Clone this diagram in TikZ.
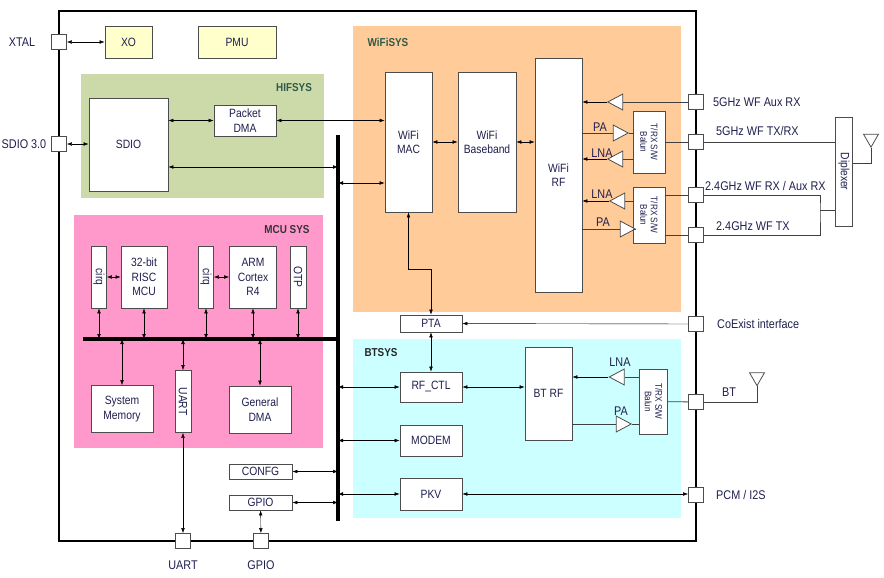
\documentclass[tikz,border=0pt]{standalone}
\usepackage{fontspec}
\setmainfont[FakeStretch=0.86]{Liberation Sans}
\usetikzlibrary{arrows.meta,shapes.geometric}
\definecolor{hifgreen}{HTML}{CCDAA9}
\definecolor{wifiorange}{HTML}{FFCB99}
\definecolor{mcupink}{HTML}{FF99CC}
\definecolor{btcyan}{HTML}{CCFFFF}
\definecolor{xoyellow}{HTML}{FFFFCC}
\definecolor{txtblue}{HTML}{1F1F4F}
\definecolor{sysgreen}{HTML}{2F5A48}
\begin{document}
\begin{tikzpicture}[x=1pt, y=-1pt,
    >={Latex[length=5pt,width=3.6pt]},
    every node/.style = {font=\fontsize{12}{14.5}\selectfont,
      text=txtblue, inner sep=0pt},
    blk/.style = {draw=black!70, line width=0.8pt, fill=white, align=center},
    pin/.style = {draw=black!70, line width=0.8pt, fill=white, minimum size=15pt},
    amp/.style = {draw=black!70, line width=0.8pt, fill=white, isosceles triangle,
      isosceles triangle apex angle=56, minimum size=15pt},
    ampl/.style = {amp, shape border rotate=180},
    ant/.style = {draw=black!70, line width=0.8pt, isosceles triangle,
      isosceles triangle apex angle=60, minimum size=13pt, shape border rotate=270},
    sys/.style = {font=\bfseries\fontsize{11.5}{13}\selectfont},
    lbl/.style = {font=\fontsize{12.6}{14}\selectfont},
    small/.style = {font=\fontsize{9.5}{10.5}\selectfont, align=center},
    link/.style = {draw=black!75, line width=0.8pt},
    bus/.style = {line width=3.5pt}]
    \useasboundingbox (0,0) rectangle (884,578);
    \fill[hifgreen] (81,74) rectangle (324,198);
    \fill[wifiorange] (353,26) rectangle (681,312);
    \fill[mcupink] (74,215) rectangle (323,448);
    \fill[btcyan] (353,339) rectangle (681,518);
    \draw[line width=1.8pt] (59,11) rectangle (696,541);
    \node[sys, text=sysgreen] at (294,88) {HIFSYS};
    \node[sys, text=sysgreen] at (388,42) {WiFiSYS};
    \node[sys, text=black!80] at (287,230) {MCU SYS};
    \node[sys, text=black!85] at (381,353) {BTSYS};

    \coordinate (busT) at (338,135);
    \coordinate (busB) at (338,521);
    \coordinate (mbus) at (83,339);
    \draw[bus] (busT) -- (busB);
    \draw[bus] (mbus) -- (mbus -| busT);

    \node[blk, fill=xoyellow, minimum width=47pt, minimum height=32pt] (xo) at (128.5,42) {XO};
    \node[blk, fill=xoyellow, minimum width=78pt, minimum height=32pt] (pmu) at (237,42) {PMU};
    \node[blk, minimum width=79pt, minimum height=93pt] (sdio) at (128.5,144.5) {SDIO};
    \node[blk, minimum width=62pt, minimum height=31pt] (pdma) at (245,120.5) {Packet\\DMA};
    \node[blk, minimum width=47pt, minimum height=140pt] (mac) at (408.5,142) {WiFi\\MAC};
    \node[blk, minimum width=58pt, minimum height=140pt] (bb) at (487,142) {WiFi\\Baseband};
    \node[blk, minimum width=47pt, minimum height=234pt] (rf) at (558.5,175) {WiFi\\RF};
    \node[blk, minimum width=32pt, minimum height=62pt] (bal1) at (649,142) {};
    \node[small, rotate=-90] at (bal1) {T/RX S/W\\Balun};
    \node[blk, minimum width=32pt, minimum height=56pt] (bal2) at (649,215) {};
    \node[small, rotate=-90] at (bal2) {T/RX S/W\\Balun};
    \node[blk, minimum width=17pt, minimum height=109pt] (dip) at (844,171.5) {};
    \node[rotate=-90] at (dip) {Diplexer};

    \node[blk, minimum width=62pt, minimum height=17pt] (pta) at (431,323.5) {PTA};
    \node[blk, minimum width=62pt, minimum height=30pt] (rfctl) at (431,387) {RF\_CTL};
    \node[blk, minimum width=62pt, minimum height=31pt] (modem) at (431,440.5) {MODEM};
    \node[blk, minimum width=62pt, minimum height=32pt] (pkv) at (431,494) {PKV};
    \node[blk, minimum width=47pt, minimum height=93pt] (btrf) at (548.5,393.5) {BT RF};
    \node[blk, minimum width=28pt, minimum height=65pt] (btbal) at (653.5,401.5) {};
    \node[small, rotate=-90] at (btbal) {T/RX S/W\\Balun};

    \node[blk, minimum width=15pt, minimum height=62pt] (cirq1) at (99,277) {};
    \node[rotate=-90] at (cirq1) {cirq};
    \node[blk, minimum width=46pt, minimum height=62pt] (risc) at (144,277) {32-bit\\RISC\\MCU};
    \node[blk, minimum width=15pt, minimum height=62pt] (cirq2) at (206,277) {};
    \node[rotate=-90] at (cirq2) {cirq};
    \node[blk, minimum width=47pt, minimum height=62pt] (arm) at (253,277) {ARM\\Cortex\\R4};
    \node[blk, minimum width=16pt, minimum height=62pt] (otp) at (298,277) {};
    \node[rotate=-90] at (otp) {OTP};
    \node[blk, minimum width=62pt, minimum height=47pt] (sysmem) at (122,409) {System\\Memory};
    \node[blk, minimum width=16pt, minimum height=62pt] (uart) at (183,401.5) {};
    \node[rotate=-90] at (uart) {UART};
    \node[blk, minimum width=62pt, minimum height=47pt] (gdma) at (260,409.5) {General\\DMA};
    \node[blk, minimum width=63pt, minimum height=15pt] (confg) at (260.5,471.5) {CONFG};
    \node[blk, minimum width=63pt, minimum height=15pt] (gpio) at (260.5,502.5) {GPIO};

    \node[pin] (pxtal) at (59,42) {};
    \node[pin] (psdio) at (59,144) {};
    \node[pin] (p5aux) at (696,102) {};
    \node[pin] (p5trx) at (696,142) {};
    \node[pin] (p24rx) at (696,195) {};
    \node[pin] (p24tx) at (696,235) {};
    \node[pin] (pcoex) at (696,324) {};
    \node[pin] (pbt) at (696,402) {};
    \node[pin] (ppcm) at (696,495) {};
    \node[pin] (puart) at (183,541) {};
    \node[pin] (pgpio) at (261,541) {};

    \node[lbl] at (22,42) {XTAL};
    \node[lbl] at (24,144) {SDIO 3.0};
    \node[lbl, anchor=west] at (713,102) {5GHz WF Aux RX};
    \node[lbl, anchor=west] at (716,131) {5GHz WF TX/RX};
    \node[lbl, anchor=west] at (705,186) {2.4GHz WF RX / Aux RX};
    \node[lbl, anchor=west] at (716,226) {2.4GHz WF TX};
    \node[lbl, anchor=west] at (717,324) {CoExist interface};
    \node[lbl] at (729,392) {BT};
    \node[lbl, anchor=west] at (716,495) {PCM / I2S};
    \node[lbl] at (183,565) {UART};
    \node[lbl] at (261,565) {GPIO};

    \node[ampl] (a5aux) at (618,102) {};
    \node[amp] (pa1) at (618,133) {};
    \node[ampl] (lna1) at (618,159) {};
    \node[ampl] (lna2) at (620,201) {};
    \node[amp] (pa2) at (625,229) {};
    \node[ampl] (btlna) at (619.5,377) {};
    \node[amp] (btpa) at (621,424) {};
    \node[ant] (ant1) at (871,138.5) {};
    \node[ant] (ant2) at (757,377) {};
    \node[lbl] at (600,127) {PA};
    \node[lbl] at (602,153) {LNA};
    \node[lbl] at (602,194) {LNA};
    \node[lbl] at (603,222) {PA};
    \node[lbl] at (620,362) {LNA};
    \node[lbl] at (621,411) {PA};

    \draw[<->] (pxtal) -- (xo);
    \draw[<->] (psdio) -- (psdio -| sdio.west);
    \draw[<->] (sdio.east |- pdma) -- (pdma);
    \draw[<->] (pdma) -- (pdma -| mac.west);
    \draw[<->] ([yshift=-22.5pt]sdio.east) coordinate (s1) -- (s1 -| busT);
    \draw[<->] ([yshift=-41pt]mac.west) coordinate (m1) -- (m1 -| busT);
    \draw[<->] (mac) -- (bb);
    \draw[<->] (bb) -- (bb -| rf.west);
    \draw[<->] (mac.south) -- ++(0,57) -| (pta);
    \draw[->] (pcoex) -- (pta);
    \draw[<->] (pta) -- (rfctl);
    \draw[<->] (rfctl) -- (rfctl -| btrf.west);
    \draw[<->] (busT |- rfctl) -- (rfctl);
    \draw[<->] (busT |- modem) -- (modem);
    \draw[<->] (busT |- pkv) -- (pkv);
    \draw[<->] (pkv) -- (pkv -| ppcm.west);
    \draw[<->] (confg) -- (confg -| busT);
    \draw[<->] (gpio) -- (gpio -| busT);
    \draw[<->] (gpio) -- (pgpio);
    \draw[<->] (uart) -- (puart);

    \draw[<->] (cirq1) -- (risc);
    \draw[<->] (cirq2) -- (arm);
    \draw[<->] (cirq1) -- (cirq1 |- mbus);
    \draw[<->] (risc) -- (risc |- mbus);
    \draw[<->] (cirq2) -- (cirq2 |- mbus);
    \draw[<->] (arm) -- (arm |- mbus);
    \draw[<->] (otp) -- (otp |- mbus);
    \draw[<->] (sysmem) -- (sysmem |- mbus);
    \draw[<->] (uart) -- (uart |- mbus);
    \draw[<->] (gdma) -- (gdma |- mbus);

    \draw[link] (p5aux) -- (a5aux.lower side);
    \draw[->] (a5aux.apex) -- (a5aux.apex -| rf.east);
    \draw[link] (pa1.lower side -| rf.east) -- (pa1.lower side);
    \draw[link] (pa1.apex) -- (pa1.apex -| bal1.west);
    \draw[link] (lna1.lower side -| bal1.west) -- (lna1.lower side);
    \draw[->] (lna1.apex) -- (lna1.apex -| rf.east);
    \draw[link] (lna2.lower side -| bal2.west) -- (lna2.lower side);
    \draw[->] (lna2.apex) -- (lna2.apex -| rf.east);
    \draw[link] (pa2.lower side -| rf.east) -- (pa2.lower side);
    \draw[link] (pa2.apex) -- (pa2.apex -| bal2.west);
    \draw[link] (bal1) -- (p5trx);
    \draw[link] ([yshift=20pt]bal2.east) -- (p24rx);
    \draw[link] ([yshift=-20pt]bal2.east) -- (p24tx);
    \draw[link] (p5trx) -- (p5trx -| dip.west);
    \coordinate (dj) at (820,210);
    \draw[link] (p24rx) -| (dj) |- (p24tx);
    \draw[link] (dj) -- (dj -| dip.west);
    \draw[link] (ant1.apex) |- ([yshift=8.5pt]dip.east);

    \draw[link] (btbal.west |- btlna) -- (btlna.lower side);
    \draw[->] (btlna.apex) -- (btlna.apex -| btrf.east);
    \draw[link] (btpa.lower side -| btrf.east) -- (btpa.lower side);
    \draw[link] (btpa.apex) -- (btpa.apex -| btbal.west);
    \draw[link] (btbal) -- (pbt);
    \draw[link] (pbt) -| (ant2.apex);
\end{tikzpicture}
\end{document}
